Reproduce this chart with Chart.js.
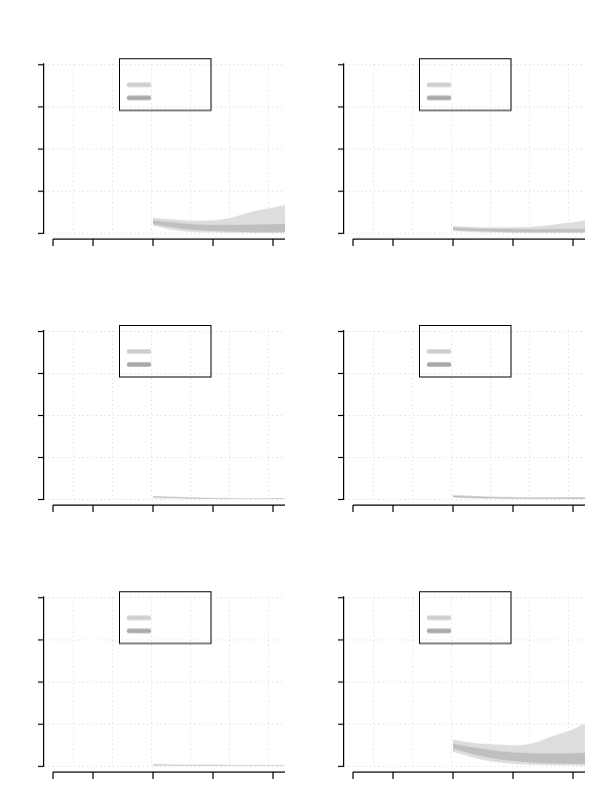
<!DOCTYPE html>
<html>
<head>
<meta charset="utf-8">
<script src="https://cdn.jsdelivr.net/npm/chart.js"></script>
<style>
  body { margin: 0; background: #fff; }
  #wrap { position: relative; width: 600px; height: 800px; }
  .cell { position: absolute; width: 300px; height: 266.67px; }
</style>
</head>
<body>
<div id="wrap"></div>
<script>
// x positions of the fan points (years) and axis marks
const years = [2025, 2030, 2035, 2040, 2045, 2050, 2055, 2058];
const xTickYears = [2000, 2010, 2025, 2040, 2055];
const xGridYears = [2005, 2014.75, 2024.5, 2034.25, 2044, 2053.75];
const yTicks = [0, 10, 20, 30, 40];

// top left
const tlOuterHigh = [3.6, 3.2, 2.9, 3.0, 3.7, 5.1, 6.0, 6.7];
const tlInnerHigh = [3.0, 2.5, 2.1, 1.9, 1.9, 2.0, 2.1, 2.1];
const tlInnerLow  = [2.1, 1.3, 0.7, 0.5, 0.3, 0.2, 0.2, 0.2];
const tlOuterLow  = [1.8, 0.7, 0.2, 0.1, 0, 0, 0, 0];
// top right
const trOuterHigh = [1.6, 1.4, 1.3, 1.3, 1.5, 2.0, 2.5, 2.9];
const trInnerHigh = [1.3, 1.1, 1.0, 0.9, 0.9, 0.9, 0.9, 0.9];
const trInnerLow  = [0.6, 0.5, 0.3, 0.2, 0.15, 0.1, 0.1, 0.1];
const trOuterLow  = [0.5, 0.2, 0.1, 0, 0, 0, 0, 0];
// middle left
const mlOuterHigh = [0.8, 0.6, 0.4, 0.3, 0.25, 0.2, 0.2, 0.2];
const mlInnerHigh = [0.6, 0.45, 0.3, 0.2, 0.15, 0.12, 0.1, 0.1];
const mlInnerLow  = [0.4, 0.25, 0.15, 0.08, 0.05, 0.04, 0.03, 0.03];
const mlOuterLow  = [0.2, 0.1, 0.05, 0.02, 0, 0, 0, 0];
// middle right
const mrOuterHigh = [1.0, 0.8, 0.6, 0.5, 0.45, 0.45, 0.5, 0.5];
const mrInnerHigh = [0.8, 0.6, 0.45, 0.35, 0.3, 0.3, 0.3, 0.3];
const mrInnerLow  = [0.5, 0.3, 0.2, 0.12, 0.08, 0.06, 0.05, 0.05];
const mrOuterLow  = [0.3, 0.15, 0.06, 0.02, 0, 0, 0, 0];
// bottom left
const blOuterHigh = [0.4, 0.35, 0.3, 0.3, 0.25, 0.25, 0.25, 0.25];
const blInnerHigh = [0.3, 0.25, 0.2, 0.18, 0.15, 0.15, 0.15, 0.15];
const blInnerLow  = [0.15, 0.1, 0.08, 0.06, 0.05, 0.05, 0.05, 0.05];
const blOuterLow  = [0.1, 0.05, 0.03, 0.02, 0.01, 0, 0, 0];
// bottom right
const brOuterHigh = [6.2, 5.5, 5.1, 4.9, 5.4, 7.1, 8.7, 10.1];
const brInnerHigh = [5.3, 4.4, 3.7, 3.2, 3.0, 2.9, 3.0, 3.1];
const brInnerLow  = [4.1, 2.8, 1.8, 1.2, 0.8, 0.6, 0.5, 0.5];
const brOuterLow  = [3.4, 2.0, 1.0, 0.5, 0.3, 0.2, 0.1, 0];

const panels = [
    [tlOuterLow, tlOuterHigh, tlInnerLow, tlInnerHigh],
    [trOuterLow, trOuterHigh, trInnerLow, trInnerHigh],
    [mlOuterLow, mlOuterHigh, mlInnerLow, mlInnerHigh],
    [mrOuterLow, mrOuterHigh, mrInnerLow, mrInnerHigh],
    [blOuterLow, blOuterHigh, blInnerLow, blInnerHigh],
    [brOuterLow, brOuterHigh, brInnerLow, brInnerHigh]
];

const outerFill = '#dddddd';
const innerFill = '#bfbfbf';
const legendColors = ['#cfcfcf', '#a9a9a9'];
const gridColor = '#d4d4d4';

function points(values) {
    return values.map((v, i) => ({x: years[i], y: v}));
}

function band(values, fill, color) {
    return {
        data: points(values),
        borderWidth: 0,
        pointRadius: 0,
        cubicInterpolationMode: 'monotone',
        fill: fill,
        backgroundColor: color
    };
}

// offset x spine with tick marks, like a trimmed matplotlib axis
const xSpine = {
    id: 'xSpine',
    afterDraw(chart) {
        const ctx = chart.ctx;
        const sx = chart.scales.x;
        const y0 = chart.chartArea.bottom + 6;
        ctx.save();
        ctx.strokeStyle = '#000';
        ctx.lineWidth = 1.2;
        ctx.beginPath();
        ctx.moveTo(sx.getPixelForValue(xTickYears[0]), y0);
        ctx.lineTo(chart.chartArea.right, y0);
        xTickYears.forEach((v) => {
            const px = sx.getPixelForValue(v);
            ctx.moveTo(px, y0);
            ctx.lineTo(px, y0 + 7);
        });
        ctx.stroke();
        ctx.restore();
    }
};

const legendBox = {
    id: 'legendBox',
    afterDraw(chart) {
        const ctx = chart.ctx;
        const a = chart.chartArea;
        const left = a.left + 75.5;
        const top = a.top - 5.5;
        ctx.save();
        ctx.strokeStyle = '#000';
        ctx.lineWidth = 1;
        ctx.strokeRect(left, top, 91.5, 51.5);
        ctx.lineWidth = 4.5;
        ctx.lineCap = 'round';
        legendColors.forEach((c, i) => {
            const y = top + 26 + i * 13;
            ctx.strokeStyle = c;
            ctx.beginPath();
            ctx.moveTo(left + 9.5, y);
            ctx.lineTo(left + 29.5, y);
            ctx.stroke();
        });
        ctx.restore();
    }
};

const wrap = document.getElementById('wrap');

panels.forEach((p, idx) => {
    const cell = document.createElement('div');
    cell.className = 'cell';
    cell.style.left = (idx % 2) * 300 + 'px';
    cell.style.top = Math.floor(idx / 2) * 266.67 + 'px';
    const canvas = document.createElement('canvas');
    cell.appendChild(canvas);
    wrap.appendChild(cell);

    new Chart(canvas.getContext('2d'), {
        type: 'line',
        data: {
            datasets: [
                band(p[2], false, innerFill),
                band(p[3], '-1', innerFill),
                band(p[0], false, outerFill),
                band(p[1], '-1', outerFill)
            ]
        },
        options: {
            responsive: true,
            maintainAspectRatio: false,
            animation: false,
            layout: {padding: {left: 38, right: 15, top: 64, bottom: 34.67}},
            plugins: {legend: {display: false}, tooltip: {enabled: false}},
            scales: {
                x: {
                    type: 'linear',
                    min: 1997.75,
                    max: 2058,
                    afterBuildTicks: (s) => { s.ticks = xGridYears.map((v) => ({value: v})); },
                    ticks: {display: false},
                    border: {display: false, dash: [1, 3.3]},
                    grid: {color: gridColor, lineWidth: 1, drawTicks: false}
                },
                y: {
                    min: 0,
                    max: 40,
                    afterBuildTicks: (s) => { s.ticks = yTicks.map((v) => ({value: v})); },
                    ticks: {display: false},
                    border: {display: true, color: '#000', width: 1.2, dash: [1, 3.3]},
                    grid: {
                        color: gridColor, lineWidth: 1,
                        drawTicks: true, tickLength: 6,
                        tickColor: '#000', tickWidth: 1.2, tickBorderDash: []
                    }
                }
            }
        },
        plugins: [xSpine, legendBox]
    });
});
</script>
</body>
</html>
